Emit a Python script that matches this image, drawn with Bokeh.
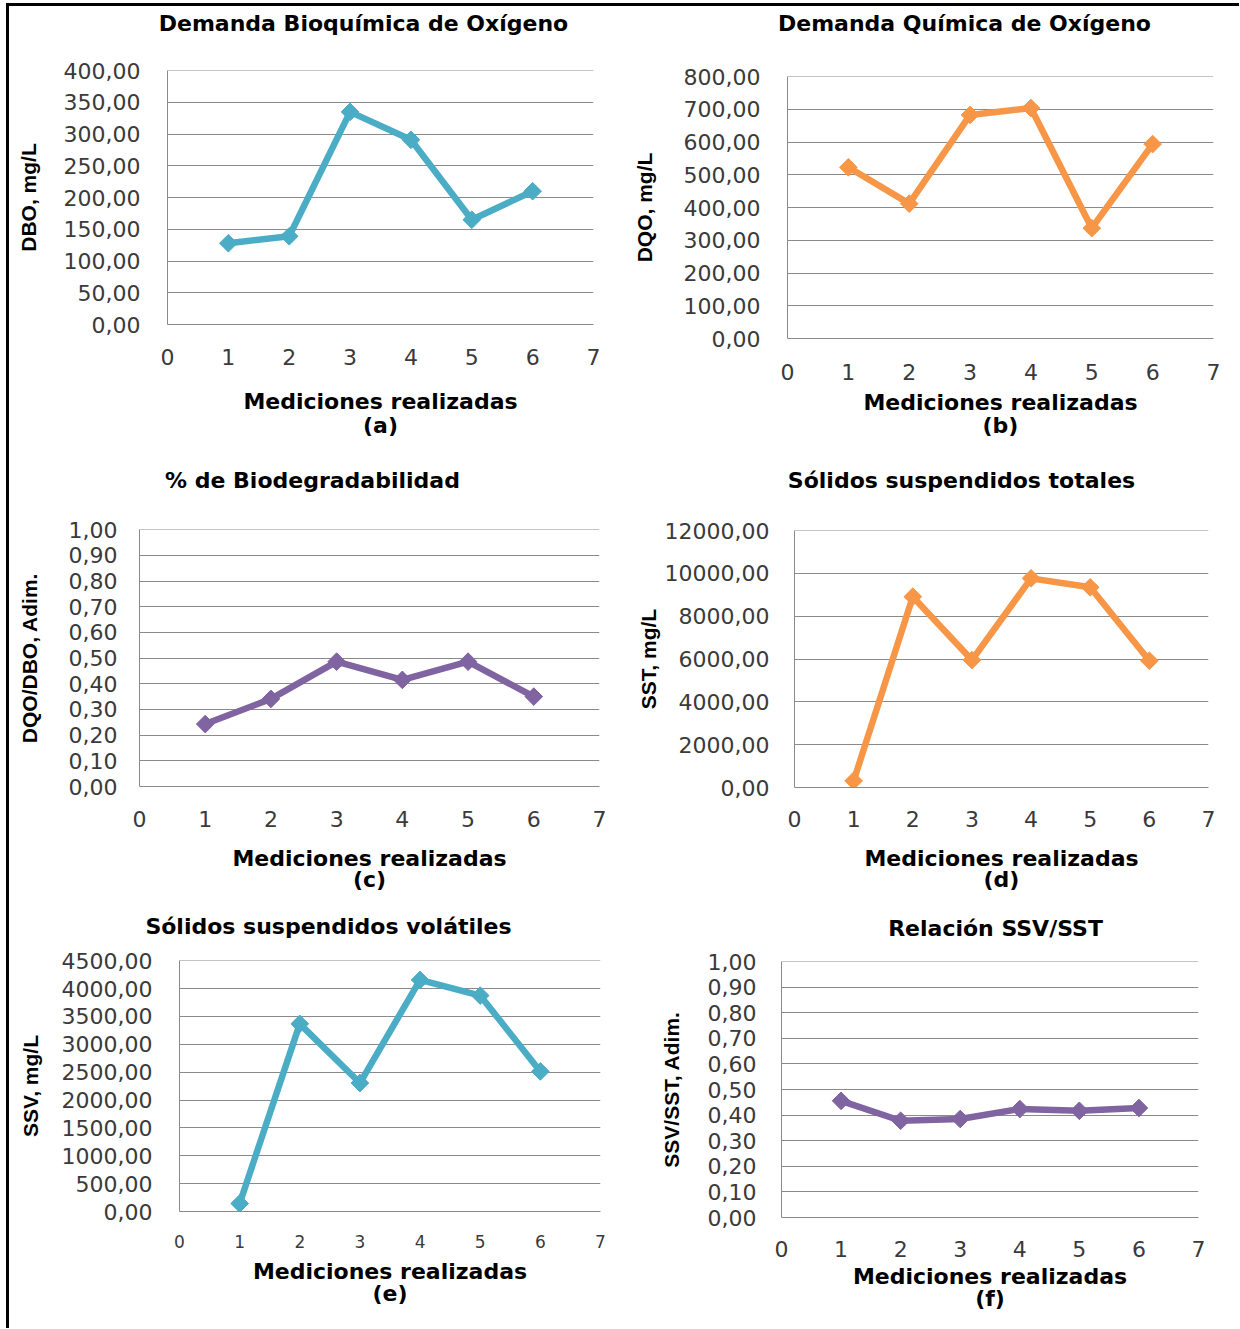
import numpy as np
from bokeh.plotting import figure
from bokeh.models import Range1d, FixedTicker, CustomJSTickFormatter, Title
from bokeh.layouts import column, row
from bokeh.embed import file_html
from bokeh.resources import INLINE

# ---------------- data ----------------
mediciones = [1, 2, 3, 4, 5, 6]
x_ticks = [0, 1, 2, 3, 4, 5, 6, 7]

dbo = [128, 139, 335, 291, 165, 210]
dqo = [523, 412, 683, 704, 337, 594]
biodeg = [0.243, 0.341, 0.486, 0.415, 0.486, 0.350]
sst = [312, 8914, 5953, 9771, 9351, 5922]
ssv = [143, 3366, 2304, 4154, 3873, 2513]
ssv_sst = [0.456, 0.378, 0.385, 0.424, 0.417, 0.428]

ticks_dbo = [0, 50, 100, 150, 200, 250, 300, 350, 400]
ticks_dqo = [0, 100, 200, 300, 400, 500, 600, 700, 800]
ticks_ratio = [0, 0.1, 0.2, 0.3, 0.4, 0.5, 0.6, 0.7, 0.8, 0.9, 1.0]
ticks_sst = [0, 2000, 4000, 6000, 8000, 10000, 12000]
ticks_ssv = [0, 500, 1000, 1500, 2000, 2500, 3000, 3500, 4000, 4500]

titles = ["Demanda Bioquímica de Oxígeno", "Demanda Química de Oxígeno",
          "% de Biodegradabilidad", "Sólidos suspendidos totales",
          "Sólidos suspendidos volátiles", "Relación SSV/SST"]
ylabels = ["DBO, mg/L", "DQO, mg/L", "DQO/DBO, Adim.", "SST, mg/L",
           "SSV, mg/L", "SSV/SST, Adim."]
xlabel = "Mediciones realizadas"
captions = ["(a)", "(b)", "(c)", "(d)", "(e)", "(f)"]

TEAL = "#4BACC6"
ORANGE = "#F79646"
PURPLE = "#8064A2"
GRID = "#8a8a8a"
HFONT = "DejaVu Sans"
VFONT = "Liberation Sans"

# approximate advance widths (em) of DejaVu Sans Bold, used only to centre titles
_W = {' ': .348, '%': 1.002, '/': .365, '(': .457, ')': .457,
      'A': .774, 'B': .762, 'D': .830, 'O': .850, 'Q': .850, 'R': .770,
      'S': .720, 'T': .682, 'V': .774,
      'a': .675, 'b': .716, 'c': .593, 'd': .716, 'e': .678, 'g': .716,
      'i': .343, 'l': .343, 'm': 1.042, 'n': .712, 'o': .687, 'p': .716,
      'q': .716, 'r': .493, 's': .595, 't': .478, 'u': .712, 'v': .652,
      'x': .645, 'í': .343, 'ó': .687, 'á': .675}


def text_w(s, px):
    return sum(_W.get(c, .68) for c in s) * px


fmt = CustomJSTickFormatter(code="return tick.toFixed(2).replace('.', ',');")


def make(i, y, yticks, color, L, FW, R, T, FH, B, title_cx, title_gap,
         xt_stand, xl_stand, yt_stand, yl_stand, lh, xt_size="22px"):
    ymax = yticks[-1]
    p = figure(frame_width=FW, frame_height=FH, output_backend="svg",
               toolbar_location=None,
               x_range=Range1d(0, 7), y_range=Range1d(0, ymax * 1.0005),
               min_border_left=L, min_border_right=R,
               min_border_top=T, min_border_bottom=B)
    p.title_location = None
    p.outline_line_color = None
    p.background_fill_color = "white"
    p.border_fill_color = "white"
    p.xgrid.visible = False
    p.ygrid.grid_line_color = GRID
    p.ygrid.grid_line_width = 1
    p.xaxis.ticker = FixedTicker(ticks=x_ticks)
    p.yaxis.ticker = FixedTicker(ticks=yticks)
    p.yaxis.formatter = fmt
    for ax in (p.xaxis[0], p.yaxis[0]):
        ax.axis_line_color = GRID
        ax.axis_line_width = 1
        ax.major_tick_out = 0
        ax.major_tick_in = 0
        ax.minor_tick_out = 0
        ax.minor_tick_in = 0
        ax.major_label_text_font = HFONT
        ax.major_label_text_color = "#3a3a3a"
    p.yaxis.major_label_text_font_size = "22px"
    p.xaxis.major_label_text_font_size = xt_size
    p.xaxis.major_label_standoff = xt_stand
    p.yaxis.major_label_standoff = yt_stand
    p.xaxis.axis_label = xlabel + "\n" + captions[i]
    p.xaxis.axis_label_text_font = HFONT
    p.xaxis.axis_label_text_font_style = "bold"
    p.xaxis.axis_label_text_font_size = "22px"
    p.xaxis.axis_label_text_line_height = lh
    p.xaxis.axis_label_text_color = "black"
    p.xaxis.axis_label_standoff = xl_stand
    p.yaxis.axis_label = ylabels[i]
    p.yaxis.axis_label_text_font = VFONT
    p.yaxis.axis_label_text_font_style = "bold"
    p.yaxis.axis_label_text_font_size = "21px"
    p.yaxis.axis_label_text_color = "black"
    p.yaxis.axis_label_standoff = yl_stand

    # invisible spacer between frame and title, then the title itself
    p.add_layout(Title(text=" ", text_font_size="1px", standoff=title_gap), "above")
    p.add_layout(Title(text=titles[i], align="left",
                       offset=title_cx - L - text_w(titles[i], 22) / 2,
                       standoff=0, text_font=HFONT, text_font_style="bold",
                       text_font_size="22px", text_color="black"), "above")

    p.line(mediciones, y, line_color=color, line_width=6.5,
           line_join="round", line_cap="round")
    p.scatter(mediciones, y, marker="square", angle=np.pi / 4, size=12.5,
              fill_color=color, line_color=color)
    return p


# title centres are given relative to each cell's left edge
pa = make(0, dbo, ticks_dbo, TEAL, 158, 426, 27, 64, 254, 123, 354, 32, 24, 21, 27, 21, 0.98)
pb = make(1, dqo, ticks_dqo, ORANGE, 167, 426, 26, 70, 262, 109, 344, 38, 25, 7, 27, 25, 0.94)
pc = make(2, biodeg, ticks_ratio, PURPLE, 130, 460, 21, 82, 257, 119, 303, 34, 24, 16, 22, 25, 0.87)
pd = make(3, sst, ticks_sst, ORANGE, 174, 414, 31, 83, 257, 118, 341, 35, 23, 16, 25, 2, 0.87)
pe = make(4, ssv, ticks_ssv, TEAL, 170, 421, 20, 55, 251, 117, 319, 19, 23, 8, 27, 17, 0.9, xt_size="17px")
pf = make(5, ssv_sst, ticks_ratio, PURPLE, 161, 417, 41, 56, 256, 111, 376, 18, 23, 4, 25, 22, 0.9)

layout = column(row(column(pa), column(pb)),
                row(column(pc), column(pd)),
                row(column(pe), column(pf)),
                margin=(3, 0, 0, 6))
layout.styles = {"border-left": "3px solid black", "border-top": "3px solid black"}

open("out.html", "w").write(file_html(layout, INLINE))
